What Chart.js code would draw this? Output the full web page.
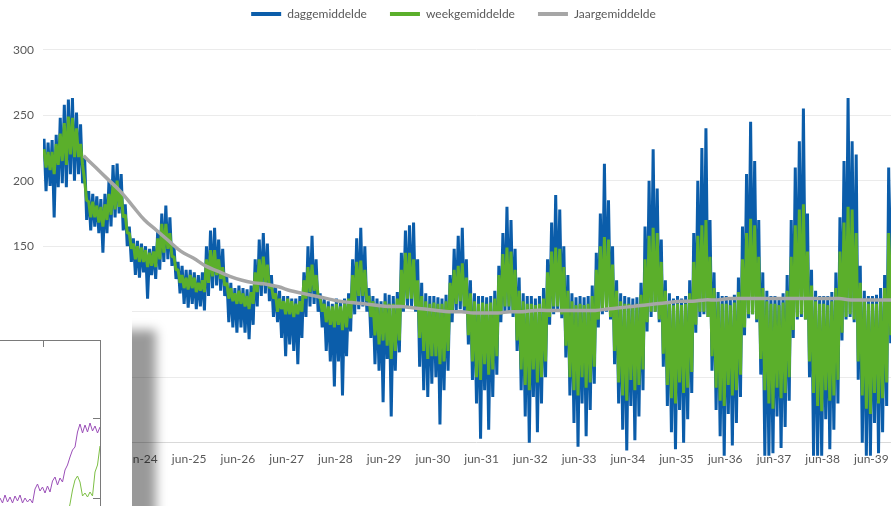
<!DOCTYPE html>
<html lang="nl">
<head>
<meta charset="utf-8">
<title>Dag-, week- en jaargemiddelde</title>
<script src="https://cdn.jsdelivr.net/npm/chart.js@4.4.1/dist/chart.umd.min.js"></script>
<style>
  html, body { margin: 0; padding: 0; background: #fff; overflow: hidden; width: 891px; height: 506px; }
  #hoofd { position: absolute; left: 0; top: 0; }
  #inzet { position: absolute; left: 0; top: 300px; width: 132px; height: 206px; background: #fff;
           box-shadow: 24px 30px 10px rgba(0, 0, 0, 0.4); }
  #inzet canvas { position: absolute; left: -101px; top: 0; }
</style>
</head>
<body>
<canvas id="hoofd" width="910" height="467"></canvas>
<div id="inzet"><canvas id="inzetGrafiek" width="203" height="240"></canvas></div>
<script>
/* Dag-, week- en jaargemiddelde, jun-22 t/m mei-40 (één rij per seizoen jun..mei) */

const jaarLabels = ["jun-22", "jun-23", "jun-24", "jun-25", "jun-26", "jun-27", "jun-28", "jun-29", "jun-30",
                    "jun-31", "jun-32", "jun-33", "jun-34", "jun-35", "jun-36", "jun-37", "jun-38", "jun-39"];
const yTicks = [0, 50, 100, 150, 200, 250, 300];

// daggemiddelde: hoogste en laagste waarde per maand
const dagMax = [
  232, 229, 231, 235, 248, 258, 262, 263, 252, 243, 218, 192,
  190, 188, 186, 190, 200, 212, 213, 205, 182, 165, 156, 154,
  152, 150, 148, 150, 162, 175, 181, 172, 150, 138, 135, 132,
  132, 130, 128, 130, 150, 162, 164, 155, 148, 127, 122, 118,
  120, 118, 117, 120, 140, 155, 160, 152, 128, 120, 116, 112,
  112, 110, 110, 112, 130, 150, 158, 140, 114, 110, 108, 106,
  110, 108, 110, 114, 140, 156, 164, 150, 118, 112, 110, 108,
  114, 113, 112, 115, 145, 162, 166, 168, 140, 122, 114, 112,
  112, 111, 110, 113, 128, 148, 158, 164, 140, 124, 114, 112,
  112, 111, 112, 116, 135, 160, 180, 170, 148, 126, 114, 112,
  112, 110, 112, 118, 140, 168, 189, 178, 150, 128, 114, 111,
  112, 111, 112, 120, 145, 175, 213, 185, 150, 124, 114, 112,
  111, 110, 111, 122, 165, 200, 224, 194, 155, 124, 114, 110,
  112, 110, 112, 124, 160, 200, 225, 240, 170, 130, 115, 112,
  112, 111, 113, 126, 165, 205, 245, 215, 170, 130, 116, 112,
  112, 111, 114, 128, 170, 210, 230, 255, 175, 132, 116, 112,
  112, 112, 115, 130, 172, 215, 263, 230, 220, 135, 116, 112,
  112, 113, 118, 128, 210, 220, 250, 235, 190, 140, 118, 112,
];
const dagMin = [
  192, 196, 172, 195, 198, 195, 205, 200, 205, 198, 170, 162,
  165, 160, 145, 160, 165, 172, 175, 162, 150, 138, 128, 126,
  130, 110, 128, 125, 132, 138, 140, 135, 125, 114, 106, 103,
  106, 102, 104, 101, 112, 118, 120, 116, 112,  92,  88,  84,
   88,  84,  79,  90, 104, 112, 114, 108,  96,  92,  80,  66,
   75,  70,  60,  80,  96, 104, 106, 100,  88,  70,  62,  43,
   62,  36,  66,  85,  98, 102, 104, 100,  80,  60,  55,  31,
   64,  20,  55,  69, 100, 104, 104, 100,  58,  40,  35,  45,
   50,  14,  40,  55,  92, 100, 102, 100,  75,  48,  30,   3,
   40,  10,  35,  52,  92, 100, 100,  96,  70,  40,  20,   0,
   35,   8,  30,  50,  90,  98, 100,  95,  65,  36,  15,  -3,
   30,   5,  25,  45,  88,  98, 100,  94,  60,  30,  10,  -6,
   28,   2,  20,  40,  85,  96, 100,  92,  58,  28,   8,  -5,
   25,   0,  18,  38,  84,  96,  98,  96,  55,  25,   5, -10,
   22,  -2,  15,  35,  82,  95,  98,  92,  52, -10, -10,  -8,
   20,  -4,  12,  32,  80,  94,  96,  94,  50, -10, -10, -10,
   18,  -5,  10,  30,  78,  94,  96,  92,  48,   0, -10, -10,
   15,  -8,   8,  28,  76,  94,  96,  92,  48,  15, -10, -10,
];

// weekgemiddelde: hoogste en laagste waarde per maand
const weekMax = [
  224, 222, 222, 228, 236, 244, 249, 248, 240, 228, 200, 184,
  184, 181, 180, 182, 190, 198, 200, 192, 174, 160, 152, 150,
  149, 147, 145, 146, 156, 167, 167, 160, 142, 132, 128, 126,
  128, 126, 122, 124, 140, 147, 147, 140, 134, 122, 118, 114,
  116, 114, 112, 115, 130, 140, 142, 136, 120, 114, 110, 108,
  110, 108, 106, 108, 124, 134, 136, 128, 110, 106, 104, 104,
  106, 104, 106, 110, 128, 138, 139, 132, 112, 108, 106, 104,
  108, 106, 106, 110, 132, 145, 145, 140, 124, 112, 108, 106,
  107, 106, 106, 108, 122, 132, 135, 137, 126, 114, 108, 106,
  107, 106, 107, 110, 128, 144, 149, 146, 132, 116, 108, 106,
  106, 105, 106, 110, 130, 146, 149, 148, 134, 116, 108, 105,
  106, 105, 106, 112, 132, 150, 157, 155, 136, 116, 108, 106,
  106, 105, 106, 113, 140, 158, 164, 160, 138, 116, 108, 105,
  106, 105, 106, 114, 138, 158, 166, 170, 142, 118, 108, 106,
  106, 105, 107, 115, 140, 160, 171, 166, 142, 118, 108, 106,
  106, 105, 107, 116, 142, 166, 178, 182, 146, 120, 108, 106,
  106, 105, 108, 118, 146, 168, 180, 178, 160, 122, 108, 106,
  106, 106, 108, 118, 160, 170, 180, 178, 150, 124, 108, 106,
];
const weekMin = [
  210, 208, 205, 212, 215, 212, 220, 218, 218, 212, 185, 172,
  172, 168, 165, 170, 174, 178, 180, 172, 160, 148, 140, 138,
  138, 134, 135, 134, 140, 145, 148, 142, 132, 122, 118, 117,
  118, 115, 116, 115, 122, 127, 128, 125, 120, 110, 108, 106,
  106, 104, 102, 106, 115, 120, 122, 118, 110, 100, 102,  98,
   98,  96,  98, 100, 110, 115, 116, 112, 100,  92,  90,  88,
   90,  86,  88,  95, 106, 112, 112, 108,  96,  82,  75,  78,
   74,  64,  70,  78, 104, 110, 110, 104,  80,  70,  64,  66,
   66,  60,  62,  70, 100, 106, 108, 104,  82,  62,  50,  48,
   60,  52,  56,  66,  98, 104, 104, 100,  78,  56,  44,  40,
   56,  46,  50,  62,  96, 104, 104,  98,  74,  50,  40,  36,
   50,  42,  46,  58,  94, 102, 102,  96,  70,  46,  36,  32,
   48,  40,  44,  56,  92, 100, 100,  94,  68,  44,  34,  30,
   46,  38,  42,  54,  90, 100, 100,  96,  66,  42,  32,  28,
   44,  36,  40,  52,  88,  98,  98,  94,  64,  40,  30,  26,
   42,  34,  38,  50,  86,  96,  98,  94,  62,  38,  28,  24,
   40,  32,  36,  48,  84,  96,  98,  94,  62,  36,  26,  22,
   38,  30,  34,  46,  82,  96,  98,  94,  60,  34,  24,  20,
];

// jaargemiddelde: één waarde per kwartaal, vanaf april 2023 (maand 10)
const jaarStart = 10;
const jaarStap = 3;
const jaarGem = [
  219, 210, 201, 192, 181, 170, 162, 154, 146, 141, 135, 131, 127, 124, 122, 121, 119, 116,
  114, 112, 110, 108, 107, 106, 105, 104, 104, 103, 102, 101, 100, 100,  99,  99,  99, 100,
  100, 101, 101, 101, 101, 101, 101, 102, 103, 104, 105, 106, 107, 108, 108, 109, 109, 110,
  110, 110, 110, 110, 110, 110, 110, 110, 110, 109, 109, 109, 109, 109, 109,
];

// ingevoegde grafiek linksonder (deels zichtbaar)
const inzetPaars = [20, 22, 21, 18.5, 22.5, 19, 21.5, 18.5, 22, 19.5, 22.5, 18.5, 21, 19, 20.5, 18.5,
                    25.5, 28, 24.5, 26.5, 23.5, 27, 24, 29.5, 31.5, 27.5, 31, 29, 35, 37.5, 41.5, 45,
                    46.5, 54, 58, 53.5, 57.5, 54, 58.5, 54.5, 57, 53.5, 56.5];
const inzetGroenStart = 29;
const inzetGroen = [12, 18, 25, 30, 32, 29, 22, 23.5, 21.5, 24, 22, 34, 37.5, 47];
const inzetTickX = [19.2];
const inzetTickY = [61, 21];

const BLAUW = "#0B5DAA";
const GROEN = "#5BAF2B";
const GRIJS = "#A6A6A6";
const TEKST = "#595959";

Chart.defaults.font.family = "Lato, 'Open Sans', sans-serif";
Chart.defaults.font.size = 12;
Chart.defaults.color = TEKST;

// hoog/laag om en om, zodat de dagelijkse uitschieters als band zichtbaar worden
function zigzag(hoog, laag) {
  const punten = [];
  for (let i = 0; i < hoog.length; i++) {
    punten.push({ x: i + 0.25, y: hoog[i] }, { x: i + 0.75, y: laag[i] });
  }
  return punten;
}

const dagPunten  = zigzag(dagMax, dagMin);
const weekPunten = zigzag(weekMax, weekMin);
const jaarPunten = jaarGem.map((v, i) => ({ x: jaarStart + i * jaarStap, y: v }));

const lijn = { pointRadius: 0, borderJoinStyle: "bevel", fill: false, clip: { left: 0, top: 0, right: 0, bottom: 10 } };

new Chart(document.getElementById("hoofd"), {
  type: "line",
  data: {
    datasets: [
      { ...lijn, label: "daggemiddelde",  data: dagPunten,  borderColor: BLAUW, backgroundColor: BLAUW, borderWidth: 3, tension: 0, order: 3 },
      { ...lijn, label: "weekgemiddelde", data: weekPunten, borderColor: GROEN, backgroundColor: GROEN, borderWidth: 3, tension: 0, order: 2 },
      { ...lijn, label: "Jaargemiddelde", data: jaarPunten, borderColor: GRIJS, backgroundColor: GRIJS, borderWidth: 3.5, tension: 0.4, order: 1 },
    ],
  },
  options: {
    responsive: false,
    animation: false,
    layout: { padding: { left: 12, right: 0, top: 0, bottom: 0 } },
    plugins: {
      tooltip: { enabled: false },
      legend: {
        position: "top",
        labels: {
          usePointStyle: true,
          pointStyle: "line",
          pointStyleWidth: 30,
          padding: 8,
          color: TEKST,
          sort: (a, b) => a.datasetIndex - b.datasetIndex,
          generateLabels: chart =>
            Chart.defaults.plugins.legend.labels.generateLabels(chart).map(l => ({
              ...l,
              lineWidth: 4,
              text: l.text + "\u2003\u2002",
            })),
        },
      },
    },
    scales: {
      x: {
        type: "linear",
        min: 0,
        max: 213.5,
        grid: { display: false, drawTicks: false },
        border: { display: false },
        afterBuildTicks: s => { s.ticks = jaarLabels.map((_, i) => ({ value: i * 12 })); },
        ticks: {
          autoSkip: false,
          maxRotation: 0,
          padding: 1,
          callback: v => jaarLabels[Math.round(v / 12)] ?? "",
        },
      },
      y: {
        min: -6,
        max: 315,
        border: { display: false },
        grid: {
          drawTicks: false,
          color: ctx => (ctx.tick && ctx.tick.value === 0 ? "#d9d9d9" : "#ebebeb"),
        },
        afterBuildTicks: s => { s.ticks = yTicks.map(v => ({ value: v })); },
        afterFit: s => { s.width = 31; },
        ticks: { padding: 9 },
      },
    },
  },
});

// ── ingevoegde grafiek ───────────────────────────────────────────────────────
const kaderKleur = "#7a7a7a";
new Chart(document.getElementById("inzetGrafiek"), {
  type: "line",
  data: {
    datasets: [
      { data: inzetPaars.map((v, i) => ({ x: i, y: v })), borderColor: "#9B4FB8", borderWidth: 1, pointRadius: 0, xAxisID: "x", yAxisID: "y" },
      { data: inzetGroen.map((v, i) => ({ x: inzetGroenStart + i, y: v })), borderColor: "#7DBF45", borderWidth: 1, pointRadius: 0, xAxisID: "x", yAxisID: "y" },
    ],
  },
  options: {
    responsive: false,
    animation: false,
    layout: { padding: { left: 1, right: 2, top: 40, bottom: 0 } },
    plugins: { legend: { display: false }, tooltip: { enabled: false } },
    scales: {
      x: { type: "linear", min: -38, max: 42, display: false },
      y: { min: 0, max: 100, display: false },
      xBoven: {
        type: "linear", position: "top", min: -38, max: 42,
        ticks: { display: false },
        grid: { drawOnChartArea: false, tickLength: -7, color: kaderKleur },
        border: { display: true, color: kaderKleur },
        afterBuildTicks: s => { s.ticks = inzetTickX.map(v => ({ value: v })); },
        afterFit: s => { s.height = 0; },
      },
      yRechts: {
        type: "linear", position: "right", min: 0, max: 100,
        ticks: { display: false },
        grid: { drawOnChartArea: false, tickLength: -7, color: kaderKleur },
        border: { display: true, color: kaderKleur },
        afterBuildTicks: s => { s.ticks = inzetTickY.map(v => ({ value: v })); },
        afterFit: s => { s.width = 0; },
      },
    },
  },
});
</script>
</body>
</html>
